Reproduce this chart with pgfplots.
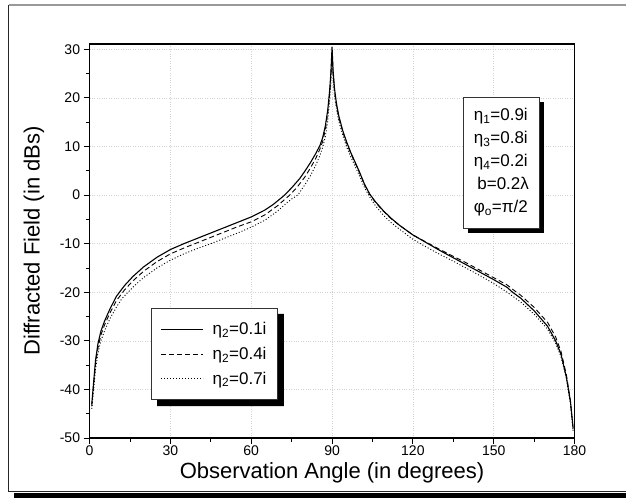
\documentclass[border=0pt]{standalone}
\usepackage{pgfplots}
\pgfplotsset{compat=1.18}
\usepackage{fontspec}
\setmainfont{Liberation Sans}
\usetikzlibrary{shadows}

\begin{document}
\begin{tikzpicture}
\begin{axis}[
  at={(0,0)}, anchor=south west,
  scale only axis, width=484.9pt, height=394pt,
  xmin=0, xmax=180, ymin=-50, ymax=31.1,
  xtick={0,30,...,180}, ytick={-50,-40,...,30},
  minor x tick num=1, minor y tick num=1,
  tick pos=left, tick align=outside,
  major tick length=6pt, minor tick length=4pt,
  every tick/.style={black, line width=0.9pt},
  axis line style={line width=1.2pt},
  grid=major, grid style={dotted, gray!35, line width=0.5pt},
  /pgf/number format/assume math mode=true,
  ticklabel style={font=\fontsize{14}{16}\selectfont},
  xticklabel style={yshift=-1pt, inner ysep=1pt},
  xlabel={Observation Angle (in degrees)},
  ylabel={Diffracted Field (in dBs)},
  label style={font=\fontsize{22}{25}\selectfont},
  xlabel style={at={(axis description cs:0.5,-0.088)}, anchor=center, inner ysep=0pt},
  ylabel style={at={(axis description cs:-0.115,0.5)}, anchor=center},
  clip=false,
  legend image code/.code={\draw[#1] (0pt,0pt) -- (42pt,0pt);},
  legend style={at={(rel axis cs:0.127,0.330)}, anchor=north west, name=leg,
    draw=black!80, line width=0.6pt, fill=white,
    font=\fontsize{17}{19}\selectfont,
    inner xsep=9pt, inner ysep=12pt, row sep=7pt, column sep=7pt},
  legend cell align=left,
]
\addplot[black, line width=1.1pt] coordinates {
(0.8,-43) (1.5,-38.5) (2.2,-34) (3.1,-30.6) (4.2,-28) (5.5,-26) (7.5,-23.5)
(10,-20.8) (13,-18.6) (16,-16.8) (20,-14.8) (25,-12.8) (30,-11.2) (35,-10.0)
(40,-8.9) (45,-7.8) (50,-6.7) (55,-5.6) (60,-4.5) (65,-3.1) (68,-2.0) (70,-1.1)
(72.4,0) (75,1.5) (78,3.4) (80,5.0) (82,6.7) (84,8.6) (85.5,10.2) (86.5,11.8) (87.5,14.2)
(88.4,17.5) (89.1,21.5) (89.6,25.5) (90,30.5) (90.4,25.5) (90.9,22) (91.6,19)
(92.5,16.3) (94,13.2) (95.5,10.8) (97,8.7) (100,5.0) (102,2.3) (104,0.2)
(106,-1.3) (109,-3.2) (112,-4.8) (115,-6.2) (120,-8.2) (125,-9.8) (130,-11.4)
(135,-12.9) (140,-14.4) (145,-15.9) (150,-17.4) (155,-19.0) (157,-20) (160,-21.2)
(165,-23.8) (170,-27) (173,-30) (175,-32.8) (177,-37.5) (178.5,-42.5) (179.5,-48)
};
\addlegendentry{η\textsubscript{2}=0.1i}
\addplot[black, line width=0.9pt, dash pattern=on 5pt off 3pt] coordinates {
(0.8,-43.5) (1.5,-39) (2.2,-34.8) (3.1,-31.5) (4.2,-28.8) (5.5,-26.8) (7.5,-24.3)
(10,-21.7) (13,-19.5) (16,-17.7) (20,-15.7) (25,-13.7) (30,-12.1) (35,-10.9)
(40,-9.8) (45,-8.7) (50,-7.6) (55,-6.5) (60,-5.5) (65,-4.1) (70,-2.1) (72,-1.1)
(74.3,0) (77,1.6) (80,3.8) (82,5.6) (84,7.6) (85.5,9.5) (86.5,11) (87.5,13.4) (88.4,16.8)
(89.1,20.8) (89.6,24.8) (90,29.5) (90.4,25) (90.9,21.5) (91.6,18.6) (92.5,16)
(94,13) (95.5,10.6) (97,8.5) (100,4.9) (102,2.2) (104,0.1) (106,-1.4) (109,-3.3)
(112,-4.9) (115,-6.2) (120,-8.2) (125,-9.7) (130,-11.2) (135,-12.6) (140,-14.0)
(145,-15.5) (150,-17.0) (155,-18.5) (158,-19.8) (160,-20.6) (165,-23.1)
(170,-26.2) (173,-29.2) (175,-32.2) (177,-37) (178.5,-42.5) (179.5,-48.5)
};
\addlegendentry{η\textsubscript{2}=0.4i}
\addplot[black, line width=0.9pt, dash pattern=on 1pt off 2pt] coordinates {
(0.8,-44) (1.5,-40) (2.2,-35.8) (3.1,-32.5) (4.2,-30) (5.5,-28) (7.5,-25.5)
(10,-23) (12,-21.3) (16,-19) (20,-17) (25,-15) (30,-13.4) (35,-12.1) (40,-11)
(45,-10) (50,-8.9) (55,-7.8) (60,-6.6) (65,-5.2) (70,-3.2) (73,-1.7) (75,-0.8)
(77.3,0) (80,2.2) (82,4) (84,6.2) (85.5,8.2) (86.5,9.8) (87.5,12) (88.4,15.2) (89.1,19.5)
(89.6,23.5) (90,28.5) (90.4,24) (90.9,20.5) (91.6,17.8) (92.5,15.2) (94,12.3)
(95.5,9.8) (97,7.8) (100,4.2) (102,1.6) (104,-0.4) (106,-2.1) (109,-4.1)
(112,-5.7) (115,-7.0) (120,-9.1) (125,-10.7) (130,-12.2) (135,-13.6) (140,-15.1)
(145,-16.6) (150,-18.2) (155,-20.0) (160,-22.0) (165,-24.5) (170,-27.6)
(173,-30.5) (175,-33.3) (177,-37.8) (178.5,-43) (179.5,-48.5)
};
\addlegendentry{η\textsubscript{2}=0.7i}

\node[draw=black!80, line width=0.6pt, fill=white, align=center,
  font=\fontsize{17}{23}\selectfont, minimum width=76pt, minimum height=131pt,
  inner xsep=5pt,
  drop shadow={shadow xshift=5pt, shadow yshift=-5pt, fill=black, opacity=1}]
  at (rel axis cs:0.848,0.699)
  {η\textsubscript{1}=0.9i\\ η\textsubscript{3}=0.8i\\ η\textsubscript{4}=0.2i\\
   \ b=0.2λ\\ φ\textsubscript{o}=π/2};
\end{axis}
\fill[black] ([yshift=-6pt]leg.north east) -- ([shift={(6pt,-6pt)}]leg.north east)
  -- ([shift={(6pt,-6pt)}]leg.south east) -- ([shift={(6pt,-6pt)}]leg.south west)
  -- ([xshift=6pt]leg.south west) -- (leg.south east) -- cycle;
\draw[gray!80, line width=1.5pt] (-80.6pt,433pt) -- (536.4pt,433pt);
\draw[black!85, line width=1pt] (-80.6pt,433pt) -- (-80.6pt,-53pt) -- (536.4pt,-53pt);
\fill[black] (-75.6pt,-55pt) rectangle (536.4pt,-60pt);
\pgfresetboundingbox
\useasboundingbox (-89.6pt,-63pt) rectangle (536.4pt,438pt);
\end{tikzpicture}
\end{document}
